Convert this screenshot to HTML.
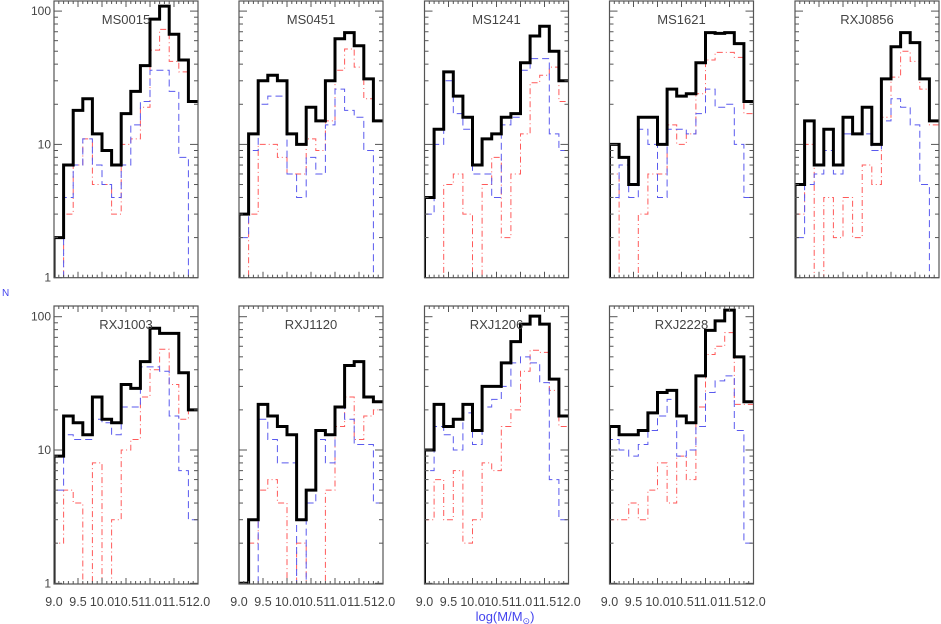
<!DOCTYPE html>
<html><head><meta charset="utf-8"><style>
html,body{margin:0;padding:0;background:#fff;}
svg{display:block;font-family:"Liberation Sans",sans-serif;}
</style></head><body>
<svg id="chart" width="941" height="624" viewBox="0 0 941 624" xmlns="http://www.w3.org/2000/svg"></svg>
<script>
const clusterNames = ["MS0015","MS0451","MS1241","MS1621","RXJ0856","RXJ1003","RXJ1120","RXJ1206","RXJ2228"];
const binEdgesStart = 9.0;
const binWidth = 0.2;
const xTickValues = [9.0,9.5,10.0,10.5,11.0,11.5,12.0];
const xTickLabels = ["9.0","9.5","10.0","10.5","11.0","11.5","12.0"];
const yTickValues = [1,10,100];
const yTickLabels = ["1","10","100"];
const totalCounts = [
 [2,7,18,22,12,9,7,17,25,39,87,109,67,43,21],
 [3,12,30,33,30,12,10,19,15,30,62,69,55,31,15],
 [4,13,35,23,16,7,11,12,16,17,41,65,77,50,30],
 [10,8,5,16,16,10,26,23,24,41,69,68,69,57,21],
 [5,15,7,13,7,16,12,19,10,31,54,69,58,31,15],
 [9,18,16,13,25,17,16,31,29,46,82,75,75,38,20],
 [1,3,22,18,15,13,3,5,14,13,21,43,46,25,23],
 [10,22,15,17,22,14,30,30,45,65,88,101,88,34,18],
 [15,13,13,14,19,27,28,18,16,36,79,93,112,50,23]
];
const blueCounts = [
 [1,4,7,11,7,5,4,7,14,21,36,36,25,8,0],
 [2,9,20,23,23,6,4,8,6,14,26,18,16,9,0],
 [3,10,30,17,13,6,6,4,14,16,36,44,44,12,9],
 [4,7,4,13,10,4,13,13,12,17,26,19,20,10,4],
 [2,5,6,9,6,12,12,12,9,15,22,19,14,5,0],
 [5,13,12,12,17,16,13,21,21,42,42,39,18,7,3],
 [0,0,17,12,8,8,0,4,12,8,21,17,11,11,4],
 [7,15,13,10,19,11,21,24,30,45,50,45,32,6,3],
 [12,10,9,11,14,18,24,9,10,15,27,33,36,14,2]
];
const redCounts = [
 [0,3,7,11,5,5,3,10,11,19,51,73,42,35,21],
 [0,3,10,10,8,6,6,11,9,15,36,52,38,22,15],
 [0,0,5,6,3,0,5,8,2,6,12,29,33,38,21],
 [6,0,0,3,6,6,14,10,12,24,43,49,49,45,17],
 [3,10,0,4,2,4,2,7,5,16,32,50,42,26,14],
 [2,5,4,0,8,0,3,10,12,25,40,57,31,17,20],
 [0,2,5,6,4,0,2,0,0,5,15,25,12,18,20],
 [3,6,3,7,2,3,8,7,15,20,39,56,54,28,15],
 [3,3,4,3,5,8,4,9,6,21,52,60,76,22,22]
];

const svg = document.getElementById('chart');
const NS = 'http://www.w3.org/2000/svg';
const panelLefts = [54,239,424.5,609.5,795];
const PW = 144;
const rows = [{top:1,bottom:277.7,y1:277.7},{top:306,bottom:584,y1:583.3}];
const DEC = 133.3;

function mk(tag, attrs, parent){
  const e = document.createElementNS(NS, tag);
  for (const k in attrs) e.setAttribute(k, attrs[k]);
  (parent||svg).appendChild(e);
  return e;
}

const clip = mk('defs',{});

for (let p=0;p<clusterNames.length;p++){
  const r = p<5?0:1;
  const col = p<5?p:p-5;
  const L = panelLefts[col], row = rows[r];
  const xs = v => L + (v-9.0)/3.0*PW;
  const ys = n => n<=0 ? row.bottom+2 : row.y1 - DEC*Math.log10(n);
  const g = mk('g',{});
  
  
  const cp = mk('clipPath',{id:'cp'+p}, clip);
  mk('rect',{x:L,y:row.top,width:PW,height:row.bottom-row.top}, cp);

  function drawSeries(vals, stroke, width, dash, name){
    let d = 'M'+xs(binEdgesStart)+','+(row.bottom+2);
    for (let i=0;i<vals.length;i++){
      const x0 = xs(binEdgesStart+i*binWidth), x1 = xs(binEdgesStart+(i+1)*binWidth);
      const y = ys(vals[i]);
      d += ' L'+x0+','+y+' L'+x1+','+y;
    }
    const path = mk('path',{d:d,fill:'none',stroke:stroke,'stroke-width':width,'clip-path':'url(#cp'+p+')'}, g);
    if (dash) path.setAttribute('stroke-dasharray', dash);
    
    
  }
  drawSeries(redCounts[p], '#ff5a5a', 1, '6,3,1,3', 'red-histogram');
  drawSeries(blueCounts[p], '#5a5aee', 1, '7,4', 'blue-histogram');
  drawSeries(totalCounts[p], '#000', 3, null, 'total-histogram');

  const fr = mk('rect',{x:L,y:row.top,width:PW,height:row.bottom-row.top,fill:'none',stroke:'#555','stroke-width':1.2}, g);
  
  

  for (let t=9.0;t<=12.001;t+=0.1){
    const major = Math.abs(t*2-Math.round(t*2))<0.01;
    const len = major?6:3, x = xs(t);
    mk('line',{x1:x,y1:row.bottom,x2:x,y2:row.bottom-len,stroke:'#555','stroke-width':1}, g);
    mk('line',{x1:x,y1:row.top,x2:x,y2:row.top+len,stroke:'#555','stroke-width':1}, g);
  }
  for (let dec=1;dec<=100;dec*=10){
    for (let m=1;m<=9;m++){
      const v = dec*m, y = ys(v);
      if (y<row.top-0.5) continue;
      const len = m===1?8:4;
      mk('line',{x1:L,y1:y,x2:L+len,y2:y,stroke:'#555','stroke-width':1}, g);
      mk('line',{x1:L+PW,y1:y,x2:L+PW-len,y2:y,stroke:'#555','stroke-width':1}, g);
    }
  }
  const tt = mk('text',{x:L+72,y:row.top+23,'text-anchor':'middle','font-size':13,fill:'#444'}, g);
  tt.textContent = clusterNames[p];
  
  

  if (col===0){
    for (let i=0;i<yTickValues.length;i++){
      const yl = mk('text',{x:L-3,y:ys(yTickValues[i])+4,'text-anchor':'end','font-size':12,fill:'#444'}, g);
      yl.textContent = yTickLabels[i];
      
      
    }
  }
  if (r===1){
    for (let i=0;i<xTickValues.length;i++){
      const xl = mk('text',{x:xs(xTickValues[i]),y:606,'text-anchor':'middle','font-size':12.5,fill:'#444'}, g);
      xl.textContent = xTickLabels[i];
      
      
    }
  }
}
const yt = mk('text',{x:2,y:296,'font-size':10,fill:'#4444ee'});
yt.textContent = 'N';


const xt = mk('text',{x:505,y:621,'text-anchor':'middle','font-size':13,fill:'#4444ee'});
xt.innerHTML = 'log(M/M<tspan font-size="9" dy="3">⊙</tspan><tspan dy="-3">)</tspan>';


</script>
</body></html>
